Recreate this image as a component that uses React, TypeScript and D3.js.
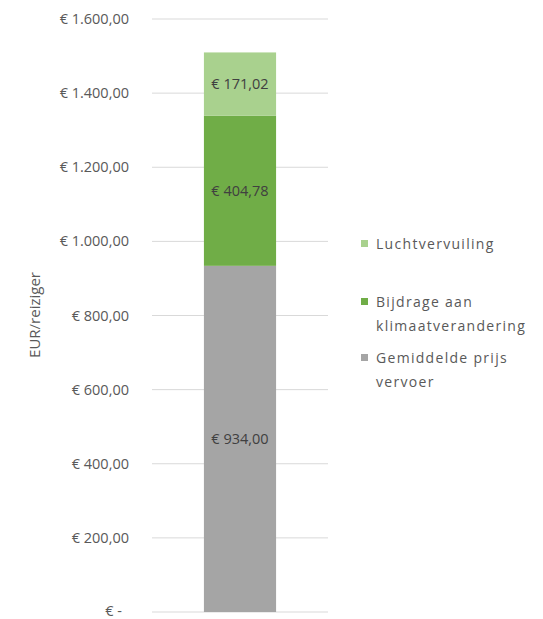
import * as d3 from 'd3';

const CATEGORIES = ['Reis'];
const SERIES = ['Gemiddelde prijs vervoer', 'Bijdrage aan klimaatverandering', 'Luchtvervuiling'];
const PRIJS = [934.0];
const KLIMAAT = [404.78];
const LUCHT = [171.02];
const Y_TICKS = [0, 200, 400, 600, 800, 1000, 1200, 1400, 1600];

const COLORS = ['#a5a5a5', '#70ad47', '#a9d18e'];
const LEGEND_LINES = [['Luchtvervuiling'], ['Bijdrage aan', 'klimaatverandering'], ['Gemiddelde prijs', 'vervoer']];
const LEGEND_COLORS = ['#a9d18e', '#70ad47', '#a5a5a5'];

const FONT = "'Open Sans', 'Noto Sans', sans-serif";

const fmtEuro = (v: number) => {
  if (v === 0) return '€ -';
  const s = v.toFixed(2).split('.');
  const int = s[0].replace(/\B(?=(\d{3})+(?!\d))/g, '.');
  return `€ ${int},${s[1]}`;
};

export default function App() {
  const width = 543;
  const height = 619;

  const rows = CATEGORIES.map((c, i) => ({ cat: c, prijs: PRIJS[i], klimaat: KLIMAAT[i], lucht: LUCHT[i] }));
  const stack = d3.stack<any>().keys(['prijs', 'klimaat', 'lucht'])(rows);

  const y = d3.scaleLinear().domain([0, 1600]).range([612, 19]);
  const x = d3.scaleBand().domain(CATEGORIES).range([152, 328]).paddingInner(0.59).paddingOuter(0.295);

  const gridX0 = 152;
  const gridX1 = 328;

  return (
    <div style={{ position: 'absolute', left: 0, top: 0 }}>
      <svg width={width} height={height} style={{ display: 'block', background: '#fff' }} fontFamily={FONT}>
        {Y_TICKS.map((t) => (
          <g key={t}>
            <line x1={gridX0} x2={gridX1} y1={y(t)} y2={y(t)} stroke="#d9d9d9" strokeWidth={1} />
            <text
              x={t === 0 ? 122 : 129}
              y={y(t)}
              dy={t === 0 ? '0.25em' : '0.35em'}
              textAnchor="end"
              fontSize={14.5}
              fill="#595959"
            >
              {fmtEuro(t)}
            </text>
          </g>
        ))}
        {stack.map((s, si) =>
          s.map((d, di) => {
            const cat = CATEGORIES[di];
            const x0 = x(cat) as number;
            const v = d[1] - d[0];
            return (
              <g key={`${si}-${di}`}>
                <rect x={x0} width={x.bandwidth()} y={y(d[1])} height={y(d[0]) - y(d[1])} fill={COLORS[si]} />
                <text
                  x={x0 + x.bandwidth() / 2}
                  y={y((d[0] + d[1]) / 2)}
                  dy="0.35em"
                  textAnchor="middle"
                  fontSize={14.5}
                  fill="#404040"
                >
                  {fmtEuro(v)}
                </text>
              </g>
            );
          })
        )}
        <text
          transform={`translate(35,315) rotate(-90)`}
          textAnchor="middle"
          dy="0.35em"
          fontSize={15}
          fill="#595959"
        >
          EUR/reiziger
        </text>
        {LEGEND_LINES.map((lines, i) => {
          const top = [244, 302, 358][i];
          return (
            <g key={SERIES[2 - i]}>
              <rect x={361} y={top - 4} width={7} height={7} fill={LEGEND_COLORS[i]} />
              {lines.map((l, li) => (
                <text
                  key={l}
                  x={376}
                  y={top + li * 24}
                  dy="0.35em"
                  fontSize={14}
                  letterSpacing={1.3}
                  fill="#595959"
                >
                  {l}
                </text>
              ))}
            </g>
          );
        })}
      </svg>
    </div>
  );
}
